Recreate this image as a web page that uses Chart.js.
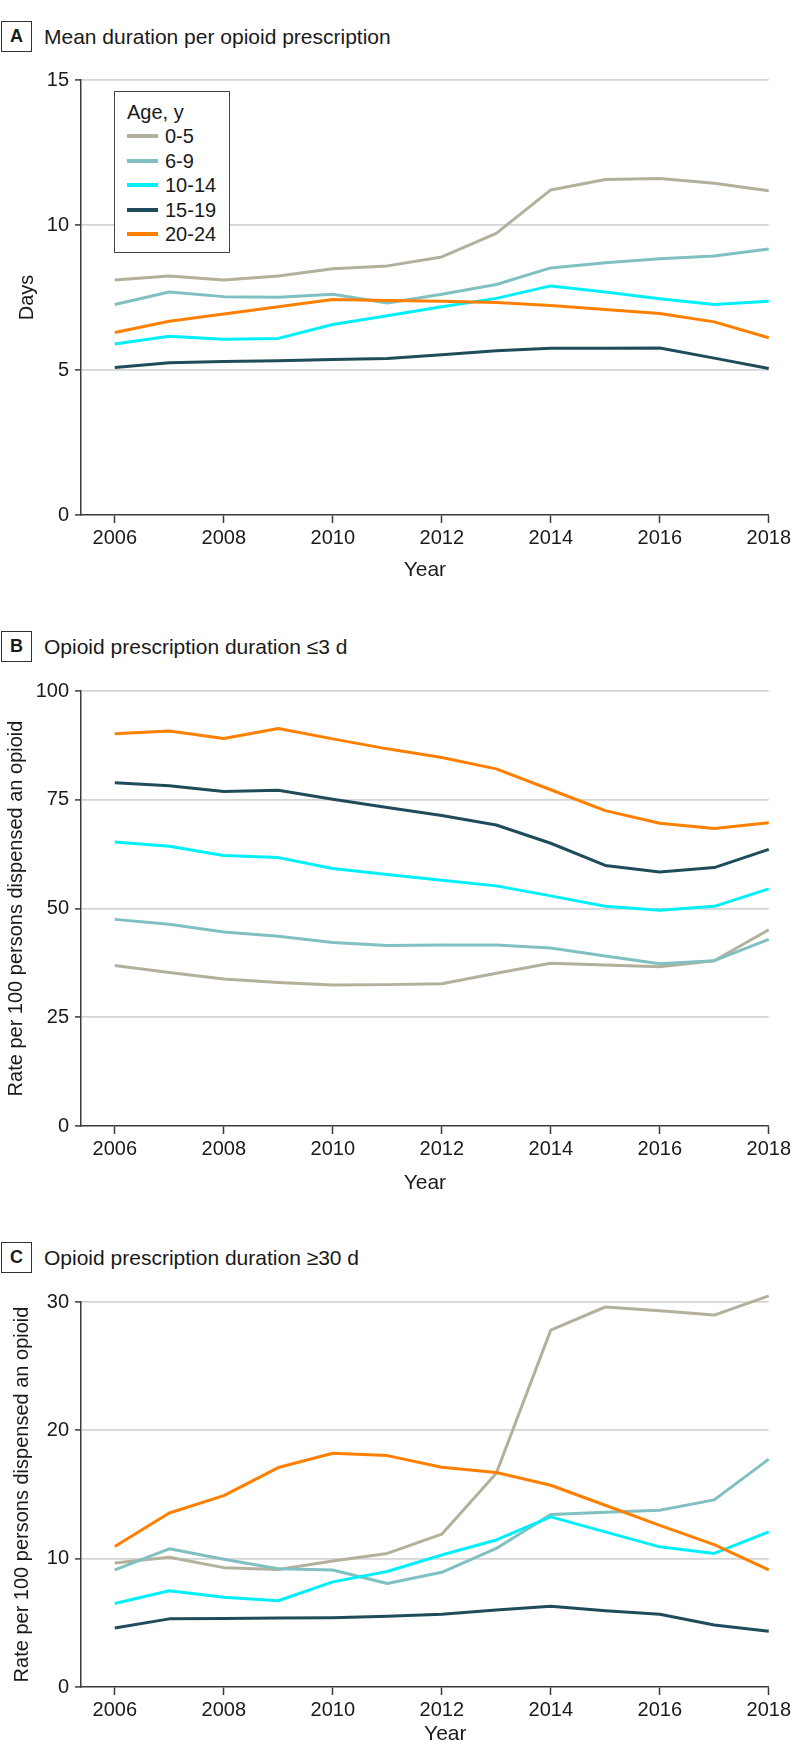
<!DOCTYPE html>
<html>
<head>
<meta charset="utf-8">
<script src="https://cdn.jsdelivr.net/npm/chart.js@4.4.0/dist/chart.umd.min.js"></script>
<style>
body { margin: 0; background: #fff; font-family: "Liberation Sans", Arial, sans-serif; color: #1a1a1a; }
#pagina { position: relative; width: 794px; height: 1763px; overflow: hidden; }
canvas { position: absolute; left: 0; }
.letra { position: absolute; left: 1px; width: 31px; height: 31px; box-sizing: border-box; border: 1.5px solid #333;
         font-weight: bold; font-size: 18px; display: flex; align-items: center; justify-content: center; }
.titulo { position: absolute; left: 44px; height: 31px; line-height: 31px; font-size: 21px; white-space: nowrap; }
#legenda { position: absolute; left: 114px; top: 91px; width: 116px; height: 162px; box-sizing: border-box;
           border: 1.5px solid #444; background: #fff; font-size: 20px; }
#legenda .cabeca { position: absolute; left: 12px; top: 8px; line-height: 24px; }
#legenda .linha { position: absolute; left: 12px; height: 24px; width: 100px; }
#legenda .traco { position: absolute; left: 0; top: 10px; width: 31px; height: 4px; }
#legenda .rotulo { position: absolute; left: 38px; top: 0; line-height: 24px; }
</style>
</head>
<body>
<div id="pagina">
  <div class="letra" style="top:21px">A</div>
  <div class="titulo" style="top:21px">Mean duration per opioid prescription</div>
  <canvas id="graficoA" width="794" height="530" style="top:60px"></canvas>
  <div id="legenda"></div>

  <div class="letra" style="top:631px">B</div>
  <div class="titulo" style="top:631px">Opioid prescription duration ≤3 d</div>
  <canvas id="graficoB" width="794" height="540" style="top:670px"></canvas>

  <div class="letra" style="top:1242px">C</div>
  <div class="titulo" style="top:1242px">Opioid prescription duration ≥30 d</div>
  <canvas id="graficoC" width="794" height="483" style="top:1280px"></canvas>
</div>

<script>
var anos = [2006, 2007, 2008, 2009, 2010, 2011, 2012, 2013, 2014, 2015, 2016, 2017, 2018];
var faixas = ['0-5', '6-9', '10-14', '15-19', '20-24'];
var cores = ['#b3b09b', '#80c0c1', '#00f0fa', '#1f4c5b', '#ff8000'];

// A - dias
var diasA_0_5 = [8.10, 8.24, 8.10, 8.24, 8.49, 8.59, 8.90, 9.71, 11.21, 11.57, 11.60, 11.44, 11.18];
var diasA_6_9 = [7.26, 7.69, 7.53, 7.51, 7.61, 7.31, 7.61, 7.95, 8.52, 8.70, 8.84, 8.93, 9.17];
var diasA_10_14 = [5.90, 6.16, 6.06, 6.09, 6.57, 6.87, 7.18, 7.47, 7.90, 7.69, 7.46, 7.26, 7.37];
var diasA_15_19 = [5.09, 5.25, 5.29, 5.32, 5.36, 5.40, 5.53, 5.66, 5.75, 5.75, 5.76, 5.41, 5.05];
var diasA_20_24 = [6.29, 6.68, 6.93, 7.18, 7.43, 7.40, 7.37, 7.33, 7.22, 7.09, 6.95, 6.66, 6.11];

// B - taxa <=3 d
var taxaB_0_5 = [36.9, 35.3, 33.8, 33.0, 32.4, 32.5, 32.7, 35.1, 37.4, 37.0, 36.6, 38.0, 45.1];
var taxaB_6_9 = [47.5, 46.4, 44.6, 43.6, 42.2, 41.5, 41.6, 41.6, 40.9, 39.1, 37.3, 38.0, 42.9];
var taxaB_10_14 = [65.3, 64.3, 62.2, 61.7, 59.2, 57.8, 56.5, 55.2, 52.9, 50.5, 49.6, 50.5, 54.5];
var taxaB_15_19 = [78.9, 78.2, 76.9, 77.2, 75.1, 73.2, 71.4, 69.2, 65.0, 59.9, 58.4, 59.4, 63.6];
var taxaB_20_24 = [90.2, 90.8, 89.1, 91.4, 89.0, 86.7, 84.7, 82.1, 77.3, 72.5, 69.6, 68.4, 69.7];

// C - taxa >=30 d
var taxaC_0_5 = [9.66, 10.11, 9.30, 9.15, 9.81, 10.41, 11.91, 16.65, 27.81, 29.61, 29.31, 28.98, 30.48];
var taxaC_6_9 = [9.12, 10.77, 9.96, 9.21, 9.12, 8.07, 8.94, 10.80, 13.44, 13.62, 13.77, 14.58, 17.76];
var taxaC_10_14 = [6.51, 7.50, 6.99, 6.72, 8.19, 9.00, 10.29, 11.46, 13.26, 12.09, 10.92, 10.41, 12.09];
var taxaC_15_19 = [4.59, 5.31, 5.34, 5.37, 5.40, 5.52, 5.67, 6.00, 6.30, 5.94, 5.67, 4.83, 4.35];
var taxaC_20_24 = [10.95, 13.56, 14.91, 17.10, 18.21, 18.03, 17.13, 16.71, 15.72, 14.16, 12.60, 11.10, 9.12];

var yTicksA = [0, 5, 10, 15];
var yTicksB = [0, 25, 50, 75, 100];
var yTicksC = [0, 10, 20, 30];
var xTicks = [2006, 2008, 2010, 2012, 2014, 2016, 2018];
var tituloY = 'Rate per 100 persons dispensed an opioid';

var fonte = '"Liberation Sans", Arial, sans-serif';
var corEixo = '#3a3a3a';

function montarSeries(lista) {
    return lista.map(function (valores, i) {
        return {
            label: faixas[i],
            data: valores.map(function (v, j) { return { x: anos[j], y: v }; }),
            borderColor: cores[i],
            borderWidth: 3,
            pointRadius: 0,
            tension: 0,
            fill: false,
            clip: false,
            borderJoinStyle: 'round',
            order: lista.length - i
        };
    });
}

function criarGrafico(id, series, yTicks, cfg) {
    var ctx = document.getElementById(id);
    return new Chart(ctx, {
        type: 'line',
        data: { datasets: montarSeries(series) },
        options: {
            responsive: false,
            animation: false,
            devicePixelRatio: 1,
            layout: { padding: { top: cfg.topo, right: 23, left: 0, bottom: 0 } },
            plugins: { legend: { display: false }, tooltip: { enabled: false } },
            scales: {
                x: {
                    type: 'linear',
                    min: 2005.38,
                    max: 2018,
                    afterBuildTicks: function (eixo) {
                        eixo.ticks = xTicks.map(function (v) { return { value: v }; });
                    },
                    afterFit: function (eixo) { eixo.height = cfg.alturaX; },
                    grid: { drawOnChartArea: false, drawTicks: true, tickLength: 8, tickColor: corEixo, tickWidth: 1.5 },
                    border: { color: corEixo, width: 1.5 },
                    ticks: {
                        padding: 3,
                        color: '#1a1a1a',
                        font: { family: fonte, size: 20 },
                        callback: function (v) { return String(v); }
                    },
                    title: {
                        display: true,
                        text: cfg.tituloX,
                        color: '#1a1a1a',
                        font: { family: fonte, size: 21 },
                        padding: { top: 0, bottom: cfg.padX }
                    }
                },
                y: {
                    min: yTicks[0],
                    max: yTicks[yTicks.length - 1],
                    afterBuildTicks: function (eixo) {
                        eixo.ticks = yTicks.map(function (v) { return { value: v }; });
                    },
                    afterFit: function (eixo) { eixo.width = 81; },
                    grid: {
                        color: function (c) { return c.tick && c.tick.value === 0 ? 'rgba(0,0,0,0)' : '#d5d5d5'; },
                        lineWidth: 1.8,
                        tickLength: 6,
                        tickColor: corEixo,
                        tickWidth: 1.5
                    },
                    border: { color: corEixo, width: 1.5 },
                    ticks: {
                        padding: 6,
                        color: '#1a1a1a',
                        font: { family: fonte, size: 20 }
                    },
                    title: {
                        display: true,
                        text: cfg.tituloY,
                        color: '#1a1a1a',
                        font: { family: fonte, size: 20 },
                        padding: { top: cfg.padY, bottom: 0 }
                    }
                }
            }
        }
    });
}

function montarLegenda() {
    var caixa = document.getElementById('legenda');
    var html = '<div class="cabeca">Age, y</div>';
    for (var i = 0; i < faixas.length; i++) {
        html += '<div class="linha" style="top:' + (32 + i * 24.5) + 'px">' +
            '<div class="traco" style="background:' + cores[i] + '"></div>' +
            '<div class="rotulo">' + faixas[i] + '</div></div>';
    }
    caixa.innerHTML = html;
}

criarGrafico('graficoA', [diasA_0_5, diasA_6_9, diasA_10_14, diasA_15_19, diasA_20_24], yTicksA,
    { topo: 20, alturaX: 75, padX: 7.4, tituloX: 'Year', tituloY: 'Days', padY: 15 });
criarGrafico('graficoB', [taxaB_0_5, taxaB_6_9, taxaB_10_14, taxaB_15_19, taxaB_20_24], yTicksB,
    { topo: 21, alturaX: 84, padX: 14.4, tituloX: 'Year', tituloY: tituloY, padY: 4 });
// no painel C o titulo "Year" fica um pouco a direita do centro
criarGrafico('graficoC', [taxaC_0_5, taxaC_6_9, taxaC_10_14, taxaC_15_19, taxaC_20_24], yTicksC,
    { topo: 22, alturaX: 76, padX: 16.4, tituloX: '       Year', tituloY: tituloY, padY: 10 });
montarLegenda();
</script>
</body>
</html>
